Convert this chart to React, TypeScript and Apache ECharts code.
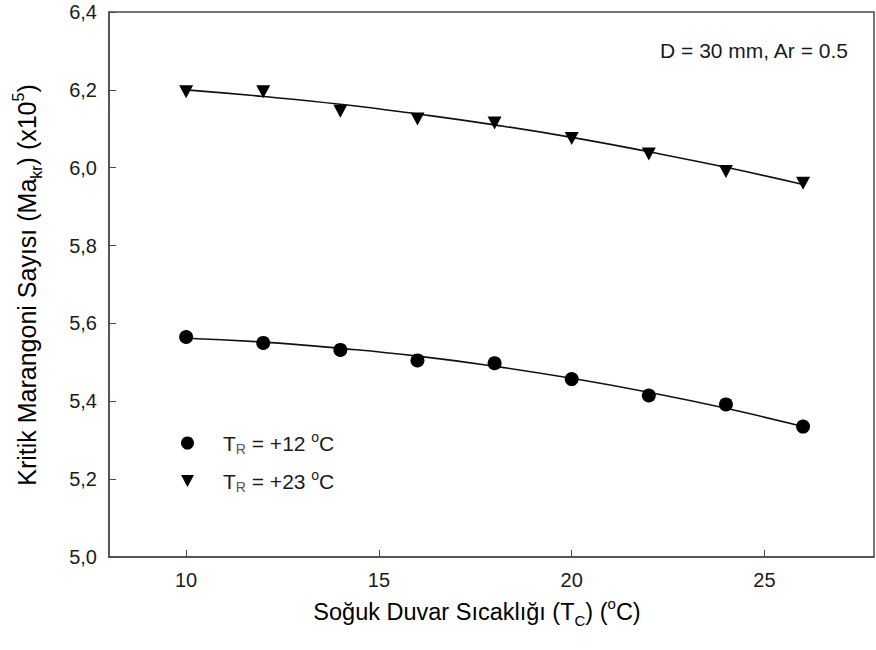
import React, { useEffect, useRef } from "react";
import * as echarts from "echarts";

const xValues = [10, 12, 14, 16, 18, 20, 22, 24, 26];
const tr12 = [5.565, 5.55, 5.532, 5.505, 5.498, 5.457, 5.415, 5.392, 5.335];
const tr23 = [6.195, 6.195, 6.145, 6.125, 6.115, 6.075, 6.035, 5.99, 5.96];
const fit12 = [5.562, 5.552, 5.536, 5.516, 5.49, 5.459, 5.423, 5.382, 5.335];
const fit23 = [6.2, 6.183, 6.163, 6.138, 6.11, 6.078, 6.041, 6.001, 5.957];
const xTicks = [10, 15, 20, 25];
const seriesNames = ["TR = +12 °C", "TR = +23 °C"];
const annotation = "D = 30 mm, Ar = 0.5";

const FONT = "'Liberation Sans', Arial, Helvetica, sans-serif";
const TXT = "#1a1a1a";
const AX = "#4a4a4a";

function pairs(ys: number[]) {
  return xValues.map((x, i) => [x, ys[i]]);
}

export default function App() {
  const ref = useRef<HTMLDivElement>(null);
  useEffect(() => {
    if (!ref.current) return;
    const chart = echarts.init(ref.current, undefined, { renderer: "svg" });
    const main = { fontSize: 23.5, fontFamily: FONT, color: TXT, lineHeight: 32, verticalAlign: "middle" };
    const sub = { fontSize: 15, fontFamily: FONT, color: TXT, lineHeight: 15, verticalAlign: "bottom" };
    const sup = { fontSize: 15, fontFamily: FONT, color: TXT, lineHeight: 15, verticalAlign: "top" };
    const ymain = { fontSize: 25, fontFamily: FONT, color: TXT, lineHeight: 34, verticalAlign: "middle" };
    const ysub = { fontSize: 16, fontFamily: FONT, color: TXT, lineHeight: 16, verticalAlign: "bottom" };
    const ysup = { fontSize: 16, fontFamily: FONT, color: TXT, lineHeight: 16, verticalAlign: "top" };
    const lmain = { fontSize: 21, fontFamily: FONT, color: TXT, lineHeight: 26, verticalAlign: "middle" };
    const lsub = { fontSize: 14, fontFamily: FONT, color: "#555", lineHeight: 12, verticalAlign: "bottom" };
    const lsup = { fontSize: 14, fontFamily: FONT, color: TXT, lineHeight: 12, verticalAlign: "top" };
    chart.setOption({
      animation: false,
      backgroundColor: "#ffffff",
      grid: {
        left: 109,
        right: 2,
        top: 12,
        bottom: 93,
        show: true,
        borderColor: AX,
        borderWidth: 1.5,
        backgroundColor: "transparent",
      },
      xAxis: {
        type: "value",
        min: 8,
        max: 27.84,
        axisLine: { show: true, lineStyle: { color: AX, width: 1.5 } },
        axisTick: { show: true, inside: true, length: 7, customValues: xTicks, lineStyle: { color: AX, width: 1 } },
        axisLabel: {
          customValues: xTicks,
          fontSize: 20,
          fontFamily: FONT,
          color: TXT,
          margin: 13,
        },
        splitLine: { show: false },
      },
      yAxis: {
        type: "value",
        min: 5.0,
        max: 6.4,
        interval: 0.2,
        axisLine: { show: true, lineStyle: { color: AX, width: 1.5 } },
        axisTick: { show: true, inside: true, length: 7, lineStyle: { color: AX, width: 1 } },
        axisLabel: {
          fontSize: 20,
          fontFamily: FONT,
          color: TXT,
          margin: 12,
          formatter: (v: number) => v.toFixed(1).replace(".", ","),
        },
        splitLine: { show: false },
      },
      legend: {
        data: [
          { name: seriesNames[0], icon: "circle" },
          { name: seriesNames[1], icon: "path://M0,0 L12,0 L6,11 Z" },
        ],
        orient: "vertical",
        left: 176,
        top: 425,
        itemWidth: 13,
        itemHeight: 13,
        itemGap: 12,
        itemStyle: { color: "#000", opacity: 1 },
        formatter: (name: string) => {
          const rest = name.slice(2).replace(" °C", " ");
          return `{m|T}{s|R}{m|${rest}}{p|o}{m|C}`;
        },
        textStyle: {
          padding: [0, 0, 0, 24],
          rich: { m: lmain, s: lsub, p: lsup },
        },
      },
      graphic: [
        {
          type: "text",
          x: 848,
          y: 50,
          style: {
            text: annotation,
            font: `21px ${FONT}`,
            fill: TXT,
            textAlign: "right",
            textVerticalAlign: "middle",
          },
        },
        {
          type: "text",
          x: 477,
          y: 612,
          style: {
            text: "{m|Soğuk Duvar Sıcaklığı (T}{s|C}{m|) (}{p|o}{m|C)}",
            rich: { m: main, s: sub, p: sup },
            textAlign: "center",
            textVerticalAlign: "middle",
          },
        },
        {
          type: "text",
          x: 27,
          y: 285,
          rotation: Math.PI / 2,
          style: {
            text: "{m|Kritik Marangoni Sayısı (Ma}{s|kr}{m|) (x10}{p|5}{m|)}",
            rich: { m: ymain, s: ysub, p: ysup },
            textAlign: "center",
            textVerticalAlign: "middle",
          },
        },
      ],
      series: [
        {
          name: "fit12",
          type: "line",
          data: pairs(fit12),
          smooth: true,
          showSymbol: false,
          lineStyle: { color: "#111", width: 1.6 },
          silent: true,
          z: 1,
        },
        {
          name: "fit23",
          type: "line",
          data: pairs(fit23),
          smooth: true,
          showSymbol: false,
          lineStyle: { color: "#111", width: 1.6 },
          silent: true,
          z: 1,
        },
        {
          name: seriesNames[0],
          type: "scatter",
          data: pairs(tr12),
          symbol: "circle",
          symbolSize: 14,
          itemStyle: { color: "#000", opacity: 1 },
          z: 3,
        },
        {
          name: seriesNames[1],
          type: "scatter",
          data: pairs(tr23),
          symbol: "triangle",
          symbolRotate: 180,
          symbolSize: [14, 13],
          itemStyle: { color: "#000", opacity: 1 },
          z: 3,
        },
      ],
    });
    return () => chart.dispose();
  }, []);
  return (
    <div
      ref={ref}
      style={{ position: "fixed", left: 0, top: 0, width: 876, height: 650, background: "#fff" }}
    />
  );
}
